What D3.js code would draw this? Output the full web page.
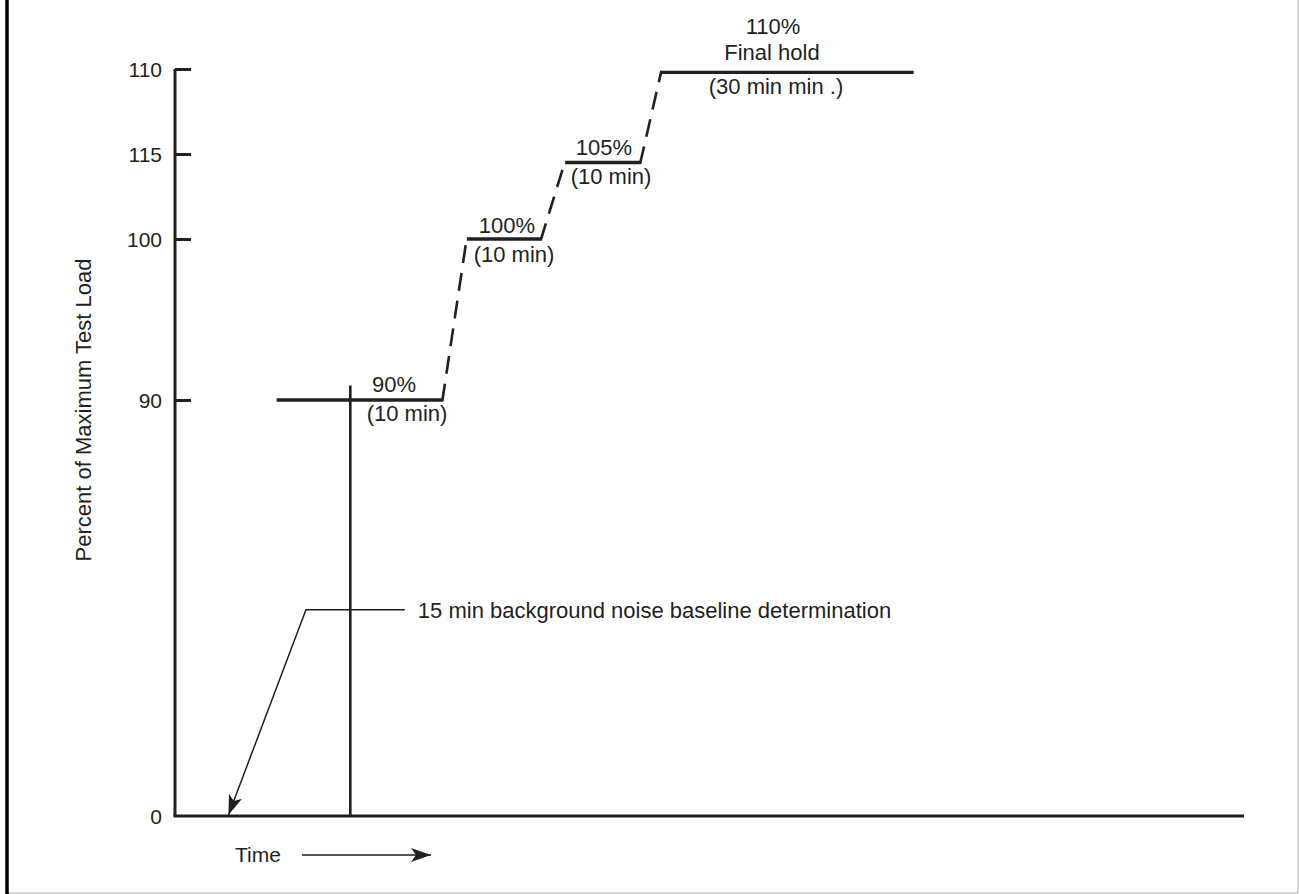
<!DOCTYPE html>
<html>
<head>
<meta charset="utf-8">
<script src="https://cdn.jsdelivr.net/npm/d3@7"></script>
<style>
  html, body { margin: 0; padding: 0; background: #fff; }
  svg { display: block; }
  text { font-family: "Liberation Sans", Arial, Helvetica, sans-serif; fill: #231f20; }
</style>
</head>
<body>
<svg id="chart" width="1299" height="894"></svg>
<script>
// ---- data (time in arbitrary units, load in % of maximum test load) ----
const tickValues = [0, 90, 100, 105, 110];
const tickLabels = ["0", "90", "100", "115", "110"];
const holdLevels = [90, 100, 104.5, 109.8];
const holdStart  = [9.5, 27.3, 36.5, 45.5];
const holdEnd    = [25.0, 34.2, 43.5, 69.1];
const stepLabels = ["90%", "100%", "105%", "110%"];
const durationLabels = ["(10 min)", "(10 min)", "(10 min)", "(30 min min .)"];
const baselineEnd = 16.4;       // end of 15 min background noise period
const baselineTop = 90.9;
const calloutText = "15 min background noise baseline determination";
const calloutTip = [5.0, 0];
const calloutElbow = [12.25, 44.6];
const calloutEnd = [21.5, 44.6];
const yTitle = "Percent of Maximum Test Load";
const xTitle = "Time";

// ---- layout ----
const svg = d3.select("#chart");
const ink = "#231f20";
const fs = 22;
const fsTick = 21;

const x = d3.scaleLinear().domain([0, 100]).range([175, 1244]);
const y = d3.scaleLinear().domain([0, 90, 100, 110]).range([816, 400, 239, 69]);

// frame
svg.append("line").attr("x1", 1298).attr("x2", 1298).attr("y1", 0).attr("y2", 893)
  .attr("stroke", "#c8c8c8").attr("stroke-width", 1.5);
svg.append("line").attr("x1", 7).attr("x2", 1298).attr("y1", 893).attr("y2", 893)
  .attr("stroke", "#c8c8c8").attr("stroke-width", 1.5);
svg.append("line").attr("x1", 7).attr("x2", 7).attr("y1", 0).attr("y2", 894)
  .attr("stroke", "#000").attr("stroke-width", 3.5);

// arrow markers
const defs = svg.append("defs");
defs.append("marker").attr("id", "arrow").attr("viewBox", "0 0 20 14")
  .attr("refX", 20).attr("refY", 7).attr("markerWidth", 20).attr("markerHeight", 14)
  .attr("markerUnits", "userSpaceOnUse").attr("orient", "auto")
  .append("path").attr("d", "M0,0 L20,7 L0,14 L5,7 Z").attr("fill", ink);

// y axis
const yAxis = d3.axisRight(y).tickValues(tickValues)
  .tickFormat((d, i) => tickLabels[i]).tickSize(16).tickSizeOuter(0);
const gy = svg.append("g").attr("transform", `translate(${x(0)},0)`).call(yAxis);
gy.select(".domain").attr("stroke", ink).attr("stroke-width", 3)
  .attr("d", `M0,${y(110)}V${y(0)}`);
gy.selectAll(".tick line").attr("stroke", ink).attr("stroke-width", 3)
  .attr("display", d => d === 0 ? "none" : null);
gy.selectAll(".tick text").attr("x", -13).attr("text-anchor", "end")
  .attr("font-size", fsTick).attr("fill", ink).attr("dy", "0.36em")
  .style("font-family", '"Liberation Sans", Arial, sans-serif');

// x axis line
svg.append("line").attr("x1", x(0) - 1.5).attr("x2", x(100)).attr("y1", y(0)).attr("y2", y(0))
  .attr("stroke", ink).attr("stroke-width", 3.2);

// baseline vertical marker
svg.append("line").attr("x1", x(baselineEnd)).attr("x2", x(baselineEnd))
  .attr("y1", y(0)).attr("y2", y(baselineTop))
  .attr("stroke", ink).attr("stroke-width", 2.6);

// holds
holdLevels.forEach((lv, i) => {
  svg.append("line").attr("x1", x(holdStart[i])).attr("x2", x(holdEnd[i]))
    .attr("y1", y(lv)).attr("y2", y(lv))
    .attr("stroke", ink).attr("stroke-width", 3.4);
});
// dashed ramps
for (let i = 0; i < holdLevels.length - 1; i++) {
  svg.append("line")
    .attr("x1", x(holdEnd[i])).attr("y1", y(holdLevels[i]) + 1.5)
    .attr("x2", x(holdStart[i + 1])).attr("y2", y(holdLevels[i + 1]) - 1.5)
    .attr("stroke", ink).attr("stroke-width", 2.6)
    .attr("stroke-dasharray", "18,10");
}

// step labels
const labelX = [394, 507, 604, 773];
const labelBase = [392, 233, 155, 34];
const durX = [407, 514, 611, 776];
const durBase = [421, 262, 184, 94];
stepLabels.forEach((t, i) => {
  svg.append("text").attr("x", labelX[i]).attr("y", labelBase[i])
    .attr("text-anchor", "middle").attr("font-size", fs).text(t);
  svg.append("text").attr("x", durX[i]).attr("y", durBase[i])
    .attr("text-anchor", "middle").attr("font-size", fs).text(durationLabels[i]);
});
svg.append("text").attr("x", 772).attr("y", 60)
  .attr("text-anchor", "middle").attr("font-size", fs).text("Final hold");

// callout
svg.append("path")
  .attr("d", d3.line()([[x(calloutEnd[0]), y(calloutEnd[1])],
                        [x(calloutElbow[0]), y(calloutElbow[1])],
                        [x(calloutTip[0]), y(calloutTip[1]) - 1]]))
  .attr("fill", "none").attr("stroke", ink).attr("stroke-width", 1.5)
  .attr("marker-end", "url(#arrow)");
svg.append("text").attr("x", x(calloutEnd[0]) + 13).attr("y", y(calloutEnd[1]) + 8)
  .attr("font-size", fs).text(calloutText);

// y title
svg.append("text").attr("transform", `translate(91,410) rotate(-90)`)
  .attr("text-anchor", "middle").attr("font-size", fs).text(yTitle);

// x title with arrow
svg.append("text").attr("x", 235).attr("y", 862).attr("font-size", fsTick).text(xTitle);
svg.append("line").attr("x1", 302).attr("x2", 431).attr("y1", 855).attr("y2", 855)
  .attr("stroke", ink).attr("stroke-width", 1.5).attr("marker-end", "url(#arrow)");
</script>
</body>
</html>
